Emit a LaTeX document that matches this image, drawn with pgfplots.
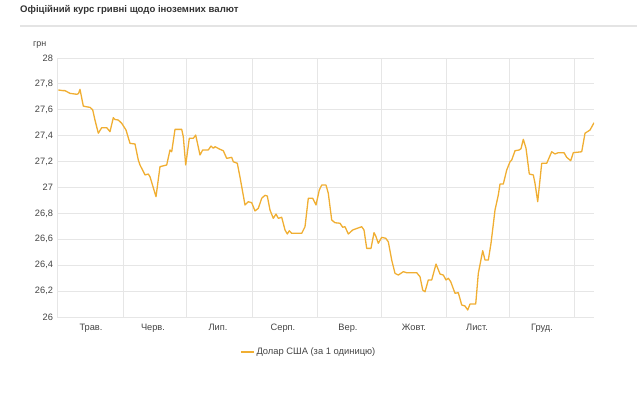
\documentclass[border=0pt]{standalone}
\usepackage{pgfplots}
\pgfplotsset{compat=1.18}
\usepackage{fontspec}
\setmainfont{Liberation Sans}
\definecolor{lineC}{RGB}{240,174,50}
\definecolor{gridC}{RGB}{230,230,230}
\definecolor{sepC}{RGB}{228,228,228}
\definecolor{txtC}{RGB}{68,68,68}
\definecolor{titleC}{RGB}{51,51,51}
\begin{document}
\begin{tikzpicture}[x=1bp,y=1bp]
\path[use as bounding box] (0,0) rectangle (637,397);
\node[anchor=west, font=\fontsize{9.6}{11}\selectfont\bfseries, text=titleC, inner sep=0] at (20,387) {Офіційний курс гривні щодо іноземних валют};
\draw[sepC, line width=1.5bp] (20,371) -- (637,371);
\node[anchor=west, inner sep=0, font=\fontsize{9}{10}\selectfont, text=txtC] at (33,352) {грн};
\begin{axis}[
  at={(57bp,80bp)}, anchor=south west,
  scale only axis, width=537bp, height=259bp,
  xmin=0, xmax=537, ymin=26, ymax=28,
  axis line style={draw=none},
  major tick length=0pt, minor tick length=0pt,
  xtick={34,96,161,226,291,357,420,485},
  xticklabels={Трав.,Черв.,Лип.,Серп.,Вер.,Жовт.,Лист.,Груд.},
  minor xtick={0,66,129,195,260,324,389,452,517},
  xminorgrids, minor grid style={gridC, line width=0.8bp},
  ytick={26,26.2,26.4,26.6,26.8,27,27.2,27.4,27.6,27.8,28},
  ymajorgrids, major grid style={gridC, line width=0.8bp},
  /pgf/number format/assume math mode=true,
  /pgf/number format/use comma,
  /pgf/number format/fixed,
  /pgf/number format/precision=1,
  tick label style={font=\fontsize{9.3}{10}\selectfont, text=txtC},
  yticklabel style={xshift=-0.5bp},
  xticklabel style={yshift=-4bp},
  legend style={at={(0.3408,-0.1351)}, anchor=west, draw=none, fill=none, inner sep=0pt,
    font=\fontsize{9.4}{10}\selectfont, text=txtC, legend cell align=left},
  legend image code/.code={\draw[lineC, line width=1.3bp] (0bp,0bp) -- (13bp,0bp);},
]
\addplot[lineC, line width=1.3bp, line join=round] coordinates {
(1.3,27.753) (6,27.748) (8,27.748) (13,27.727) (19.7,27.72) (21.5,27.725) (23,27.758)
(26.3,27.629) (29,27.624) (33,27.619) (35.7,27.60) (38,27.52) (41.3,27.419) (44.7,27.462)
(49.7,27.462) (53,27.431) (56.3,27.539) (58,27.525) (61.3,27.521) (64.7,27.496) (69,27.444)
(73,27.341) (78,27.336) (81.3,27.212) (83,27.174) (88,27.097) (91.3,27.104) (93,27.083)
(99,26.929) (103,27.161) (109.7,27.174) (113,27.290) (114.7,27.276) (118,27.449) (124.7,27.449)
(126.3,27.392) (128.7,27.174) (132.3,27.380) (136.3,27.380) (138.7,27.405) (143,27.251)
(145.7,27.290) (151.3,27.290) (154,27.320) (156.3,27.303) (158,27.315) (163,27.295)
(166.3,27.284) (169.7,27.225) (174.7,27.233) (176.3,27.199) (180.3,27.187) (183,27.08)
(188,26.865) (191.3,26.890) (194.7,26.883) (198,26.819) (201.3,26.839) (204.7,26.917)
(208,26.940) (210.3,26.934) (213,26.826) (216.3,26.762) (219,26.795) (221.3,26.762)
(224.7,26.770) (228,26.672) (230.3,26.641) (232.3,26.666) (234.7,26.646) (244.7,26.646)
(248,26.697) (251.3,26.917) (255.7,26.917) (259,26.865) (262.3,26.981) (264.7,27.019)
(269,27.019) (271.3,26.955) (274.7,26.749) (278,26.728) (283,26.724) (285.7,26.693)
(288,26.697) (291.3,26.641) (295.7,26.672) (300.3,26.685) (304.7,26.697) (307,26.672)
(309.7,26.530) (314,26.530) (317,26.651) (319,26.620) (321.3,26.569) (324.7,26.615)
(328.7,26.608) (331.3,26.581) (334.7,26.440) (338,26.337) (341.3,26.324) (346.3,26.350)
(349.7,26.342) (359.7,26.342) (363,26.311) (365.7,26.208) (368,26.195) (371.3,26.286)
(374.7,26.286) (379,26.409) (383,26.332) (386.3,26.324) (389,26.286) (391.3,26.299)
(393.7,26.273) (398,26.183) (401.3,26.188) (404.7,26.093) (408,26.085) (410.7,26.054)
(413,26.100) (418.7,26.100) (421.3,26.337) (425.7,26.512) (428,26.440) (431.3,26.440)
(434,26.569) (438,26.826) (441.3,26.942) (443,27.027) (446.3,27.027) (449.7,27.135)
(453,27.199) (454.7,27.212) (458,27.284) (462.3,27.290) (464,27.30) (466.3,27.372)
(469,27.303) (472.3,27.104) (476.3,27.097) (478,27.032) (480.7,26.890) (484.7,27.187)
(489.7,27.187) (494.7,27.276) (498,27.259) (501.3,27.269) (507,27.269) (509.7,27.233)
(513.7,27.207) (516.3,27.269) (524.7,27.276) (528,27.419) (533,27.444) (537,27.500)
};
\addlegendentry{Долар США (за 1 одиницю)}
\end{axis}
\end{tikzpicture}
\end{document}
